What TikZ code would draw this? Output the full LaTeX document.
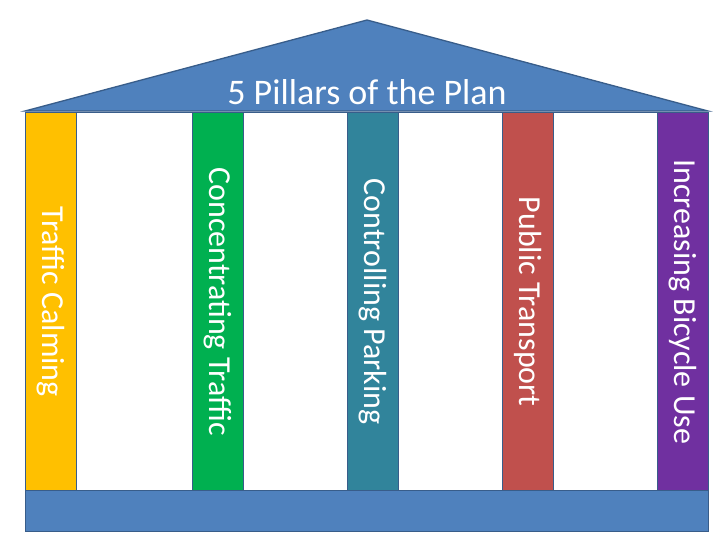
\documentclass[tikz,border=0pt]{standalone}
\usepackage{fontspec}
\setmainfont{Carlito}
\definecolor{roofblue}{HTML}{4F81BD}
\definecolor{edgeblue}{HTML}{385D8A}
\definecolor{pyellow}{HTML}{FFC000}
\definecolor{pgreen}{HTML}{00B050}
\definecolor{pteal}{HTML}{31849B}
\definecolor{pred}{HTML}{C0504D}
\definecolor{ppurple}{HTML}{7030A0}
\begin{document}
\begin{tikzpicture}[x=1pt,y=-1pt,
  part/.style={draw=edgeblue,line width=1.3pt},
  pillar/.style={part,minimum width=51pt,minimum height=378pt,inner sep=0pt,anchor=north west},
  plabel/.style={text=white,font=\fontsize{32}{36}\selectfont,rotate=-90}]
\useasboundingbox (0,0) rectangle (728,546);
\fill[white] (0,0) rectangle (728,546);
% building body
\node[part,fill=white,minimum width=683pt,minimum height=378pt,inner sep=0pt,anchor=north west] (body) at (25,112) {};
% roof
\coordinate (rl) at (25,111);
\coordinate (rr) at (708,111);
\coordinate (ra) at (367,20);
\filldraw[part,fill=roofblue,line join=miter] (rl) -- (ra) -- (rr) -- cycle;
\node[text=white,font=\fontsize{36}{40}\selectfont] (title) at (367,92) {5 Pillars of the Plan};
% base
\node[part,fill=roofblue,minimum width=683pt,minimum height=41pt,inner sep=0pt,anchor=north west] (base) at (25,490) {};
% pillars
\node[pillar,fill=pyellow] (p1) at (25,112) {};
\node[pillar,fill=pgreen] (p2) at (192,112) {};
\node[pillar,fill=pteal] (p3) at (347,112) {};
\node[pillar,fill=pred] (p4) at (502,112) {};
\node[pillar,fill=ppurple] (p5) at (657,112) {};
\node[plabel] (t1) at (p1.center) {Traffic Calming};
\node[plabel] (t2) at (p2.center) {Concentrating Traffic};
\node[plabel] (t3) at (p3.center) {Controlling Parking};
\node[plabel] (t4) at (p4.center) {Public Transport};
\node[plabel] (t5) at (p5.center) {Increasing Bicycle Use};
\end{tikzpicture}
\end{document}
